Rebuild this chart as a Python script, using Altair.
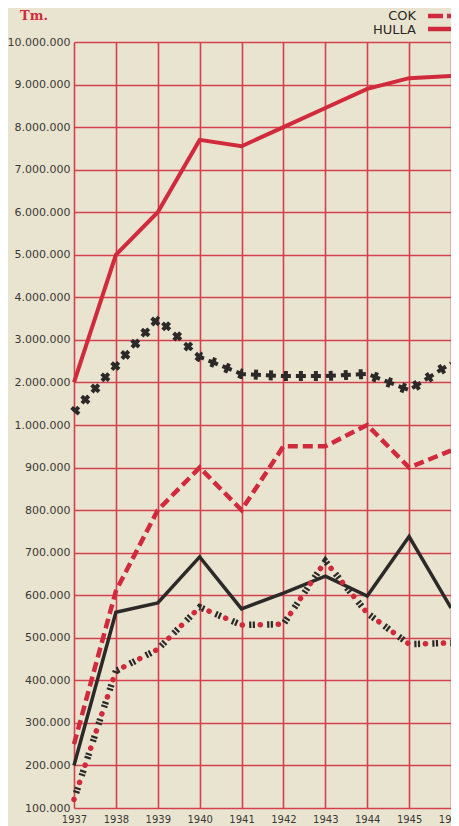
import json
import altair as alt
import pandas as pd

# ---- data ----
years = [1937, 1938, 1939, 1940, 1941, 1942, 1943, 1944, 1945, 1946]
hulla = [2000000, 5000000, 6000000, 7700000, 7550000, 8000000, 8450000, 8900000, 9150000, 9200000]
cok = [250000, 610000, 800000, 900000, 800000, 950000, 950000, 1000000, 900000, 940000]
black_solid = [200000, 560000, 582000, 690000, 568000, 605000, 645000, 598000, 738000, 570000]
crosses = [1300000, 2400000, 3500000, 2600000, 2200000, 2150000, 2150000, 2200000, 1820000, 2450000]
triangles = [120000, 422000, 473000, 572000, 530000, 532000, 680000, 558000, 485000, 488000]

y_labels = ["100.000", "200.000", "300.000", "400.000", "500.000", "600.000",
            "700.000", "800.000", "900.000", "1.000.000", "2.000.000", "3.000.000",
            "4.000.000", "5.000.000", "6.000.000", "7.000.000", "8.000.000",
            "9.000.000", "10.000.000"]
legend_labels = ["COK", "HULLA"]
unit_label = "Tm."

RED = "#d02a3c"
GRID = "#d5404f"
BLACK = "#2c2a28"
BG = "#e9e4cf"
TXT = "#3a3836"

rows = []
for name, vals in [("hulla", hulla), ("cok", cok), ("black", black_solid),
                   ("crosses", crosses), ("triangles", triangles)]:
    for yr, v in zip(years, vals):
        rows.append({"year": yr, "value": v, "series": name})
df = pd.DataFrame(rows)

base = alt.Chart(df).transform_calculate(
    pos="datum.value <= 1000000 ? datum.value / 100000 - 1 : 9 + (datum.value - 1000000) / 1000000"
)

x_enc = alt.X("year:Q",
              scale=alt.Scale(domain=[1937, 1946], nice=False, zero=False),
              axis=alt.Axis(values=years, format="d", title=None, grid=True,
                            gridColor=GRID, gridWidth=1.6, gridOpacity=1,
                            domain=False, ticks=False, labelFontSize=10,
                            labelFont="DejaVu Sans", labelColor=TXT,
                            labelPadding=6, labelFlush=False))
y_enc = alt.Y("pos:Q",
              scale=alt.Scale(domain=[0, 18], nice=False, zero=False),
              axis=alt.Axis(values=list(range(19)),
                            labelExpr=f"{json.dumps(y_labels)}[datum.value]",
                            title=None, grid=True, gridColor=GRID, gridWidth=1.6,
                            gridOpacity=1, domain=False, ticks=False,
                            labelFontSize=11, labelFont="DejaVu Sans",
                            labelColor=TXT, labelPadding=4))


def series(name):
    return base.transform_filter(alt.datum.series == name)


hulla_l = series("hulla").mark_line(color=RED, strokeWidth=4).encode(x=x_enc, y=y_enc)
cok_l = series("cok").mark_line(color=RED, strokeWidth=4.5, strokeDash=[10, 5]).encode(x=x_enc, y=y_enc)
black_l = series("black").mark_line(color=BLACK, strokeWidth=3.5).encode(x=x_enc, y=y_enc)

cross_a = series("crosses").mark_line(color=BLACK, strokeWidth=10, strokeDash=[4, 11],
                                      strokeCap="butt").encode(x=x_enc, y=y_enc)
cross_b = series("crosses").mark_line(color=BLACK, strokeWidth=4, strokeDash=[10, 5],
                                      strokeDashOffset=3, strokeCap="butt").encode(x=x_enc, y=y_enc)

tri_dots = series("triangles").mark_line(color=RED, strokeWidth=5.5, strokeDash=[0.1, 17.9],
                                         strokeCap="round").encode(x=x_enc, y=y_enc)
tri_black = series("triangles").mark_line(color=BLACK, strokeWidth=6.5, strokeDash=[2.2, 1.4, 2.2, 12.2],
                                          strokeDashOffset=11.1, strokeCap="butt").encode(x=x_enc, y=y_enc)

leg_df = pd.DataFrame({"label": legend_labels})
leg_cok_t = alt.Chart(leg_df).transform_filter(alt.datum.label == "COK").mark_text(
    align="right", baseline="middle", font="DejaVu Sans", fontSize=13, color="#2a2826"
).encode(text="label:N", x=alt.value(342), y=alt.value(-26))
leg_hulla_t = alt.Chart(leg_df).transform_filter(alt.datum.label == "HULLA").mark_text(
    align="right", baseline="middle", font="DejaVu Sans", fontSize=13, color="#2a2826"
).encode(text="label:N", x=alt.value(342), y=alt.value(-12))
leg_cok_r = alt.Chart(leg_df).transform_filter(alt.datum.label == "COK").mark_rule(
    color=RED, strokeWidth=4.5, strokeDash=[15, 4]
).encode(x=alt.value(354), x2=alt.value(392), y=alt.value(-26))
leg_hulla_r = alt.Chart(leg_df).transform_filter(alt.datum.label == "HULLA").mark_rule(
    color=RED, strokeWidth=4.5
).encode(x=alt.value(354), x2=alt.value(392), y=alt.value(-13))

unit_t = alt.Chart(pd.DataFrame({"t": [unit_label]})).mark_text(
    align="left", baseline="middle", font="DejaVu Serif", fontSize=13,
    fontWeight="bold", color=RED
).encode(text="t:N", x=alt.value(-54), y=alt.value(-26))

chart = alt.layer(
    hulla_l, cok_l, black_l, cross_a, cross_b, tri_dots, tri_black,
    leg_cok_t, leg_hulla_t, leg_cok_r, leg_hulla_r, unit_t
).properties(
    width=377, height=766,
    autosize=alt.AutoSizeParams(type="none"),
    padding={"left": 66, "top": 34, "right": 0, "bottom": 18},
    background=BG,
).configure_view(stroke=None)

chart.save("out.html", embed_options={"renderer": "svg", "actions": False})
